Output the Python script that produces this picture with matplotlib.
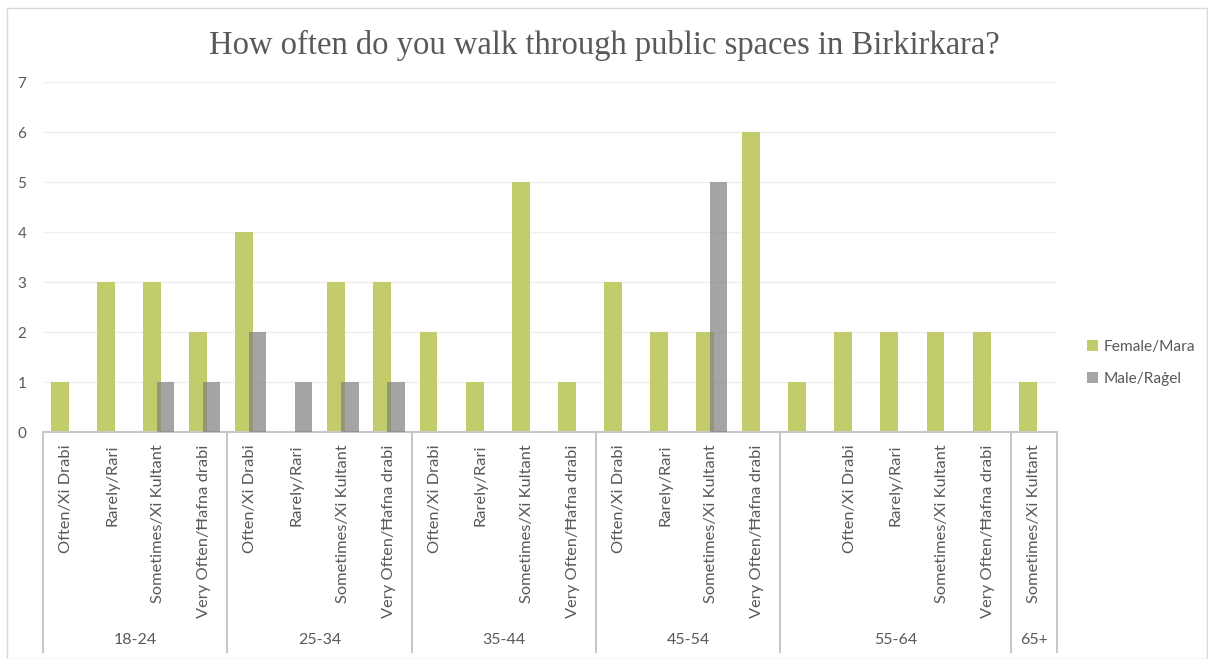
import matplotlib
matplotlib.use("Agg")
import matplotlib.pyplot as plt
from matplotlib.patches import Rectangle
from matplotlib.lines import Line2D
import numpy as np

# Data
age_groups = ["18-24", "25-34", "35-44", "45-54", "55-64", "65+"]
group_sizes = [4, 4, 4, 4, 5, 1]
answers = [
    "Often/Xi Drabi", "Rarely/Rari", "Sometimes/Xi Kultant", "Very Often/Ħafna drabi",
    "Often/Xi Drabi", "Rarely/Rari", "Sometimes/Xi Kultant", "Very Often/Ħafna drabi",
    "Often/Xi Drabi", "Rarely/Rari", "Sometimes/Xi Kultant", "Very Often/Ħafna drabi",
    "Often/Xi Drabi", "Rarely/Rari", "Sometimes/Xi Kultant", "Very Often/Ħafna drabi",
    "", "Often/Xi Drabi", "Rarely/Rari", "Sometimes/Xi Kultant", "Very Often/Ħafna drabi",
    "Sometimes/Xi Kultant",
]
female = [1, 3, 3, 2, 4, 0, 3, 3, 2, 1, 5, 1, 3, 2, 2, 6, 1, 2, 2, 2, 2, 1]
male = [0, 0, 1, 1, 2, 1, 1, 1, 0, 0, 0, 0, 0, 0, 5, 0, 0, 0, 0, 0, 0, 0]

W, H = 1208, 659
fig = plt.figure(figsize=(W / 100, H / 100), dpi=100)

font = "Lato"
txt_col = "#595959"
line_col = "#c8c8c8"

# plot area in pixels
x0, x1, y0, y1 = 43, 1057, 432, 82
ax = fig.add_axes([x0 / W, (H - y0) / H, (x1 - x0) / W, (y0 - y1) / H])

x = np.arange(len(answers))
ax.bar(x - 0.136, female, width=0.39, color="#c3cc6a", label="Female/Mara", zorder=2)
ax.bar(x + 0.157, male, width=0.38, color="#7f7f7f", alpha=0.7, label="Male/Raġel", zorder=3)

ax.set_xlim(-0.5, len(answers) - 0.5)
ax.set_ylim(0, 7)
ax.set_yticks(range(0, 8))
ax.yaxis.grid(True, color="#efefef", linewidth=1, zorder=0)
ax.set_axisbelow(True)
for s in ["top", "right", "left"]:
    ax.spines[s].set_visible(False)
ax.spines["bottom"].set_color(line_col)
ax.spines["bottom"].set_linewidth(1.5)

ax.set_xticks(x)
ax.set_xticklabels(answers, rotation=90, va="top", ha="center",
                   fontsize=11.8, color=txt_col, family=font)
ax.tick_params(axis="x", length=0, pad=9)
ax.tick_params(axis="y", length=0, pad=12, labelsize=11, labelcolor=txt_col)
for lab in ax.get_yticklabels():
    lab.set_family(font)

# group separators and labels
bottom = -(652 - y0) / (y0 - y1)
label_y = -(640 - y0) / (y0 - y1)
edges = np.concatenate([[0], np.cumsum(group_sizes)]) - 0.5
trans = ax.get_xaxis_transform()
for e in edges:
    ax.add_line(Line2D([e, e], [0, bottom], transform=trans, color=line_col,
                       linewidth=1.5, clip_on=False))
for name, a, b in zip(age_groups, edges[:-1], edges[1:]):
    ax.text((a + b) / 2, label_y, name, transform=trans, ha="center", va="center",
            fontsize=11.5, color=txt_col, family=font)

# title
fig.text(0.5, (H - 45) / H, "How often do you walk through public spaces in Birkirkara?",
         ha="center", va="center", fontsize=23.5, color=txt_col, family="Liberation Serif")

# legend
handles, labels = ax.get_legend_handles_labels()
leg = fig.legend(handles, labels, loc="center left", bbox_to_anchor=(1073 / W, (H - 363) / H),
                 frameon=False, handlelength=0.7, handleheight=0.7, handletextpad=0.4,
                 labelspacing=1.2, prop={"family": font, "size": 11.2})
for t in leg.get_texts():
    t.set_color(txt_col)

# chart border
fig.patches.append(Rectangle((7 / W, 0), 1 - 8 / W, (H - 8) / H, transform=fig.transFigure,
                             fill=False, edgecolor="#d9d9d9", linewidth=1))

fig.savefig("out.png", dpi=100)
